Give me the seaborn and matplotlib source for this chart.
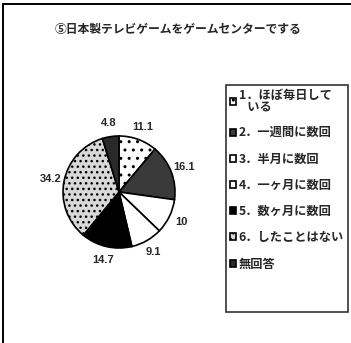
import matplotlib
matplotlib.use("Agg")
import matplotlib.pyplot as plt
from matplotlib.lines import Line2D
from matplotlib.patches import Patch
import seaborn as sns

# ---- data ----
title = "⑤日本製テレビゲームをゲームセンターでする"
categories = ["1．ほぼ毎日して\n   いる", "2．一週間に数回", "3．半月に数回", "4．一ヶ月に数回",
              "5．数ヶ月に数回", "6．したことはない", "無回答"]
values = [11.1, 16.1, 10, 9.1, 14.7, 34.2, 4.8]
value_labels = ["11.1", "16.1", "10", "9.1", "14.7", "34.2", "4.8"]

# ---- style ----
sns.set_theme(style="white")
plt.rcParams['font.family'] = ['Noto Sans CJK JP', 'DejaVu Sans']
face = ["white", "#3a3a3a", "white", "white", "black", "#d8d8d8", "#2a2a2a"]
hatches = ["..", None, None, None, None, "...", None]

W, H = 351, 343
fig = plt.figure(figsize=(W / 100, H / 100), dpi=100)
fig.patch.set_facecolor("white")

# pie axes: centre (119,192) px, radius 56 px
R = 56
half = 1.4
cx, cy = 119, 192
ax = fig.add_axes([(cx - half * R) / W, (H - cy - half * R) / H, 2 * half * R / W, 2 * half * R / H])
wedges, texts = ax.pie(values, labels=value_labels, startangle=90, counterclock=False,
                       colors=face, labeldistance=1.24,
                       wedgeprops=dict(edgecolor="black", linewidth=1.2),
                       textprops=dict(fontsize=8, fontweight="bold", family=["Liberation Sans", "DejaVu Sans"]))
for w, h in zip(wedges, hatches):
    if h:
        w.set_hatch(h)
for t in texts:
    t.set_ha("center")
    t.set_va("center")
ax.set_xlim(-half, half)
ax.set_ylim(-half, half)
ax.set_aspect("equal")
ax.axis("off")

# legend
handles = list(wedges) + [Patch(facecolor="none", edgecolor="none")]
labels = categories + [" \n "]
leg = fig.legend(handles, labels, loc="upper left",
                 bbox_to_anchor=(226 / W, 1 - 85 / H), bbox_transform=fig.transFigure,
                 prop=dict(size=8.8, weight="bold"), frameon=True, fancybox=False,
                 edgecolor="black", borderpad=0.3, handlelength=0.5, handleheight=0.5,
                 handletextpad=0.25, labelspacing=1.08, borderaxespad=0)
leg.get_frame().set_linewidth(1.2)
for t in leg.get_texts():
    t.set_linespacing(0.85)

# title
fig.text(178 / W, 1 - 29 / H, title, ha="center", va="center", fontsize=8.5, fontweight="bold")

# outer frame lines
fig.add_artist(Line2D([3 / W, 1], [1 - 4 / H, 1 - 4 / H], transform=fig.transFigure, color="black", lw=1.4))
fig.add_artist(Line2D([3 / W, 3 / W], [1 - 4 / H, 0], transform=fig.transFigure, color="black", lw=1.4))

fig.savefig("out.png", dpi=100, facecolor="white")
